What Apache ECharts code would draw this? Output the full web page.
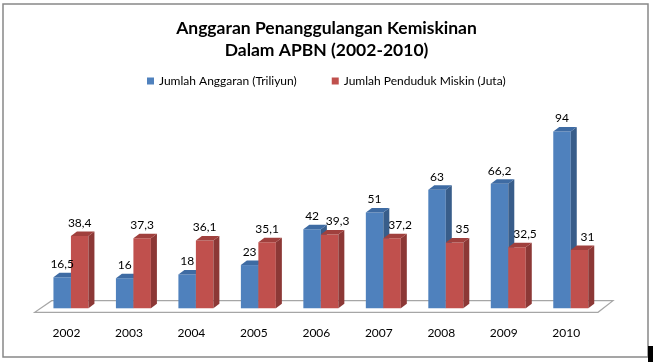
<!DOCTYPE html>
<html>
<head>
<meta charset="utf-8">
<script src="https://cdn.jsdelivr.net/npm/echarts@6/dist/echarts.min.js"></script>
<style>html,body{margin:0;padding:0;background:#fff}#c{width:653px;height:362px}</style>
</head>
<body>
<div id="c"></div>
<script>
const categories = ['2002','2003','2004','2005','2006','2007','2008','2009','2010'];
const anggaran = [16.5, 16, 18, 23, 42, 51, 63, 66.2, 94];
const penduduk = [38.4, 37.3, 36.1, 35.1, 39.3, 37.2, 35, 32.5, 31];
const seriesNames = ['Jumlah Anggaran (Triliyun)', 'Jumlah Penduduk Miskin (Juta)'];

const FONT = 'Lato';
const DX = 6, DY = -4.5;
const colors = [
  {front: '#4F81BD', side: '#385D8A', top: '#3E6BA3'},
  {front: '#C0504D', side: '#8C3836', top: '#A0403D'}
];

function geom(api, k) {
  const idx = api.value(0), val = api.value(1);
  const p0 = api.coord([idx, 0]);
  const p1 = api.coord([idx, val]);
  const W = api.size([1, 0])[0];
  const bw = W * 0.28;
  const pc = p0[0] + W * 0.072;
  const left = pc - bw + k * bw;
  return {idx: idx, left: left, right: left + bw, top: p1[1], bottom: p0[1], bw: bw, val: val};
}

function barRender(k) {
  return function (params, api) {
    const g = geom(api, k);
    const c = colors[k];
    return {
      type: 'group',
      children: [
        {type: 'rect', shape: {x: g.left, y: g.top, width: g.bw, height: g.bottom - g.top},
         style: {fill: c.front}},
        {type: 'polygon', shape: {points: [[g.right, g.top], [g.right + DX, g.top + DY], [g.right + DX, g.bottom + DY], [g.right, g.bottom]]},
         style: {fill: c.side}},
        {type: 'polygon', shape: {points: [[g.left, g.top], [g.left + DX, g.top + DY], [g.right + DX, g.top + DY], [g.right, g.top]]},
         style: {fill: c.top}}
      ]
    };
  };
}

function labelRender(k) {
  return function (params, api) {
    const g = geom(api, k);
    // red labels are nudged right when the blue bar beside them is taller
    const shift = (k === 1 && anggaran[g.idx] > g.val) ? 8 : 0;
    return {
      type: 'text',
      style: {
        text: String(g.val).replace('.', ','),
        x: g.left + g.bw / 2 + shift,
        y: g.top - 13,
        align: 'center', verticalAlign: 'middle',
        font: '12px ' + FONT, fill: '#000'
      }
    };
  };
}

function floorRender(params, api) {
  const cs = params.coordSys;
  const yb = cs.y + cs.height;
  const xl = cs.x - 0.5, xr = cs.x + cs.width + 0.5;
  return {
    type: 'polygon',
    shape: {points: [[xl, yb + 4], [xr, yb + 4], [xr + 15, yb - 7.6], [xl + 17, yb - 7.6]]},
    style: {fill: '#fff', stroke: '#A6A6A6', lineWidth: 1.2}
  };
}

const chart = echarts.init(document.getElementById('c'), null, {renderer: 'canvas'});
chart.setOption({
  animation: false,
  backgroundColor: '#fff',
  title: {
    text: 'Anggaran Penanggulangan Kemiskinan\nDalam APBN (2002-2010)',
    left: 'center', top: 17, padding: 0,
    textStyle: {fontFamily: FONT, fontSize: 17.5, fontWeight: 'bold', color: '#000', lineHeight: 22}
  },
  legend: {
    data: seriesNames,
    left: 147, top: 75, padding: 0,
    icon: 'rect', itemWidth: 7, itemHeight: 7, itemGap: 35,
    textStyle: {fontFamily: FONT, fontSize: 12, color: '#000'}
  },
  grid: {left: 35.2, right: 55.5, top: 120.3, bottom: 53.7},
  xAxis: {
    type: 'category', data: categories,
    axisLine: {show: false}, axisTick: {show: false},
    axisLabel: {margin: 19, fontFamily: FONT, fontSize: 12, color: '#000'}
  },
  yAxis: {type: 'value', min: 0, max: 100, show: false, splitLine: {show: false}},
  graphic: [
    {type: 'rect', shape: {x: 3, y: 4, width: 645, height: 353}, style: {fill: 'none', stroke: '#888', lineWidth: 1.5}, z: 100},
    {type: 'rect', shape: {x: 648, y: 346, width: 5, height: 16}, style: {fill: '#000'}, z: 100}
  ],
  series: [
    {type: 'custom', name: 'floor', renderItem: floorRender, data: [[0, 0]], z: 1, silent: true},
    {type: 'custom', name: 'lbl1', renderItem: labelRender(1), data: penduduk.map((v, i) => [i, v]), z: 2, silent: true},
    {type: 'custom', name: seriesNames[0], renderItem: barRender(0), data: anggaran.map((v, i) => [i, v]), itemStyle: {color: colors[0].front}, z: 3},
    {type: 'custom', name: seriesNames[1], renderItem: barRender(1), data: penduduk.map((v, i) => [i, v]), itemStyle: {color: colors[1].front}, z: 3},
    {type: 'custom', name: 'lbl0', renderItem: labelRender(0), data: anggaran.map((v, i) => [i, v]), z: 4, silent: true}
  ]
});
</script>
</body>
</html>
